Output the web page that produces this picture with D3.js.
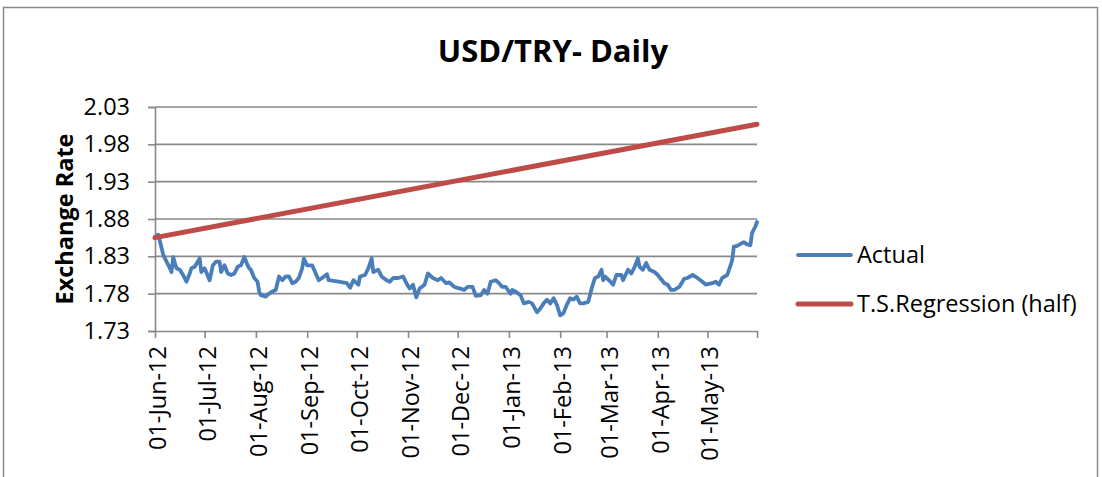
<!DOCTYPE html>
<html>
<head>
<meta charset="utf-8">
<script src="https://cdn.jsdelivr.net/npm/d3@7"></script>
<style>
  html, body { margin: 0; padding: 0; background: #fff; }
  svg { display: block; }
</style>
</head>
<body>
<svg id="chart" width="1102" height="477"></svg>
<script>
// ---- data ----
const chartTitle = "USD/TRY- Daily";
const yAxisTitle = "Exchange Rate";
const seriesNames = ["Actual", "T.S.Regression (half)"];
const yTicks = [1.73, 1.78, 1.83, 1.88, 1.93, 1.98, 2.03];
const xTickDates = ["2012-06-01","2012-07-01","2012-08-01","2012-09-01","2012-10-01","2012-11-01",
                    "2012-12-01","2013-01-01","2013-02-01","2013-03-01","2013-04-01","2013-05-01"];
const xDomain = ["2012-06-01", "2013-05-31"];

const actualDates = [
"2012-06-01","2012-06-03","2012-06-06","2012-06-08","2012-06-10","2012-06-11","2012-06-12","2012-06-13","2012-06-14","2012-06-16",
"2012-06-18","2012-06-20","2012-06-22","2012-06-23","2012-06-25","2012-06-28","2012-06-29","2012-07-01","2012-07-04","2012-07-06",
"2012-07-08","2012-07-10","2012-07-11","2012-07-13","2012-07-15","2012-07-17","2012-07-19","2012-07-21","2012-07-23","2012-07-25",
"2012-07-27","2012-07-28","2012-07-29","2012-07-31","2012-08-02","2012-08-03","2012-08-04","2012-08-07","2012-08-09","2012-08-11",
"2012-08-13","2012-08-15","2012-08-17","2012-08-19","2012-08-21","2012-08-23","2012-08-25","2012-08-27","2012-08-29","2012-08-30",
"2012-09-01","2012-09-04","2012-09-08","2012-09-10","2012-09-13","2012-09-14","2012-09-17","2012-09-20","2012-09-25","2012-09-27",
"2012-09-29","2012-10-02","2012-10-03","2012-10-06","2012-10-08","2012-10-10","2012-10-11","2012-10-14","2012-10-16","2012-10-19",
"2012-10-21","2012-10-23","2012-10-26","2012-10-29","2012-10-31","2012-11-02","2012-11-04","2012-11-06","2012-11-08","2012-11-11",
"2012-11-13","2012-11-16","2012-11-19","2012-11-21","2012-11-24","2012-11-26","2012-11-29","2012-12-02","2012-12-05","2012-12-07",
"2012-12-10","2012-12-12","2012-12-15","2012-12-17","2012-12-19","2012-12-21","2012-12-24","2012-12-26","2012-12-28","2012-12-30",
"2013-01-02","2013-01-03","2013-01-05","2013-01-08","2013-01-10","2013-01-13","2013-01-15","2013-01-18","2013-01-20","2013-01-22",
"2013-01-24","2013-01-26","2013-01-28","2013-01-30","2013-02-01","2013-02-03","2013-02-05","2013-02-07","2013-02-09","2013-02-11",
"2013-02-13","2013-02-15","2013-02-18","2013-02-20","2013-02-22","2013-02-24","2013-02-26","2013-02-27","2013-02-28","2013-03-03",
"2013-03-05","2013-03-07","2013-03-10","2013-03-11","2013-03-14","2013-03-16","2013-03-18","2013-03-20","2013-03-21","2013-03-23",
"2013-03-25","2013-03-27","2013-03-30","2013-04-01","2013-04-05","2013-04-07","2013-04-09","2013-04-11","2013-04-14","2013-04-17",
"2013-04-19","2013-04-22","2013-04-25","2013-04-28","2013-04-30","2013-05-04","2013-05-06","2013-05-08","2013-05-10","2013-05-13",
"2013-05-15","2013-05-16","2013-05-17","2013-05-19","2013-05-23","2013-05-25","2013-05-27","2013-05-28","2013-05-30","2013-05-31"
];
const actualValues = [
1.856,1.859,1.832,1.823,1.814,1.809,1.829,1.821,1.814,1.812,
1.805,1.796,1.807,1.814,1.816,1.827,1.809,1.814,1.798,1.818,
1.823,1.823,1.809,1.818,1.807,1.805,1.807,1.816,1.818,1.829,
1.818,1.814,1.812,1.801,1.796,1.783,1.778,1.776,1.780,1.783,
1.785,1.803,1.798,1.803,1.803,1.794,1.796,1.801,1.814,1.827,
1.818,1.818,1.798,1.801,1.806,1.798,1.797,1.796,1.794,1.788,
1.798,1.792,1.803,1.805,1.814,1.827,1.809,1.812,1.803,1.798,
1.796,1.801,1.801,1.803,1.794,1.787,1.792,1.775,1.787,1.792,
1.807,1.801,1.798,1.801,1.794,1.795,1.789,1.787,1.785,1.789,
1.789,1.777,1.778,1.785,1.780,1.796,1.798,1.794,1.789,1.789,
1.780,1.785,1.783,1.778,1.767,1.769,1.767,1.755,1.760,1.767,
1.772,1.767,1.774,1.765,1.751,1.754,1.765,1.774,1.772,1.776,
1.767,1.767,1.769,1.787,1.801,1.803,1.812,1.798,1.803,1.797,
1.792,1.805,1.805,1.798,1.812,1.807,1.816,1.827,1.816,1.812,
1.821,1.812,1.809,1.805,1.794,1.792,1.785,1.785,1.789,1.800,
1.801,1.805,1.801,1.796,1.792,1.794,1.796,1.792,1.801,1.805,
1.818,1.825,1.843,1.844,1.849,1.846,1.845,1.861,1.870,1.876
];
const regressionDates = ["2012-06-01", "2013-05-31"];
const regressionValues = [1.855, 2.007];

// ---- drawing ----
const parse = d3.timeParse("%Y-%m-%d");
const svg = d3.select("#chart");
const FONT = "'Open Sans', 'Liberation Sans', sans-serif";
const colors = ["#4a7ebb", "#be4b48"];
const gridColor = "#898989";

// outer frame
svg.append("rect").attr("x", 3.5).attr("y", 7.5).attr("width", 1094).attr("height", 500)
  .attr("fill", "none").attr("stroke", "#8a8a8a").attr("stroke-width", 1.5);

const x = d3.scaleTime().domain(xDomain.map(parse)).range([155, 757]);
const y = d3.scaleLinear().domain([1.73, 2.03]).range([331, 107]);

// horizontal gridlines
svg.append("g").selectAll("line").data(yTicks.slice(1)).join("line")
  .attr("x1", 155).attr("x2", 757)
  .attr("y1", d => y(d)).attr("y2", d => y(d))
  .attr("stroke", gridColor).attr("stroke-width", 1.6);

// y axis
const yAxis = d3.axisLeft(y).tickValues(yTicks).tickFormat(d3.format(".2f")).tickSize(7).tickPadding(18);
const gy = svg.append("g").attr("transform", "translate(155,0)").call(yAxis);
gy.select(".domain").attr("stroke", gridColor).attr("stroke-width", 1.6);
gy.selectAll(".tick line").attr("stroke", gridColor).attr("stroke-width", 1.6);
gy.selectAll(".tick text").attr("font-family", FONT).attr("font-size", 23.5).attr("fill", "#000");

// x axis
const tickDates = xTickDates.map(parse).concat([parse(xDomain[1])]);
const xAxis = d3.axisBottom(x).tickValues(tickDates)
  .tickFormat((d, i) => i < xTickDates.length ? d3.timeFormat("%d-%b-%y")(d) : "")
  .tickSize(7).tickSizeOuter(0);
const gx = svg.append("g").attr("transform", "translate(0,331)").call(xAxis);
gx.select(".domain").attr("stroke", gridColor).attr("stroke-width", 1.6);
gx.selectAll(".tick line").attr("stroke", gridColor).attr("stroke-width", 1.6);
gx.selectAll(".tick text")
  .attr("font-family", FONT).attr("font-size", 23.5).attr("fill", "#000")
  .attr("transform", "rotate(-90)")
  .attr("text-anchor", "end")
  .attr("x", -15).attr("y", 0).attr("dy", "0.45em");

// lines
const line = d3.line().x(d => x(d[0])).y(d => y(d[1]));
const actualData = actualDates.map((d, i) => [parse(d), actualValues[i]]);
const regData = regressionDates.map((d, i) => [parse(d), regressionValues[i]]);

svg.append("path").datum(actualData).attr("d", line)
  .attr("fill", "none").attr("stroke", colors[0]).attr("stroke-width", 3.8)
  .attr("stroke-linejoin", "round").attr("stroke-linecap", "round");
svg.append("path").datum(regData).attr("d", line)
  .attr("fill", "none").attr("stroke", colors[1]).attr("stroke-width", 5)
  .attr("stroke-linecap", "round");

// title
svg.append("text").attr("x", 553).attr("y", 62).attr("text-anchor", "middle")
  .attr("font-family", FONT).attr("font-weight", "bold").attr("font-size", 31)
  .attr("fill", "#000").text(chartTitle);

// y axis title
svg.append("text").attr("transform", "translate(73,219) rotate(-90)").attr("text-anchor", "middle")
  .attr("font-family", FONT).attr("font-weight", "bold").attr("font-size", 23.5)
  .attr("fill", "#000").text(yAxisTitle);

// legend
const legY = [255, 304];
const leg = svg.append("g");
seriesNames.forEach((name, i) => {
  leg.append("line").attr("x1", 798).attr("x2", 851).attr("y1", legY[i]).attr("y2", legY[i])
    .attr("stroke", colors[i]).attr("stroke-width", i === 0 ? 3.8 : 5).attr("stroke-linecap", "round");
  leg.append("text").attr("x", 857).attr("y", legY[i]).attr("dy", "0.35em")
    .attr("font-family", FONT).attr("font-size", 23.5).attr("fill", "#000").text(name);
});
</script>
</body>
</html>
